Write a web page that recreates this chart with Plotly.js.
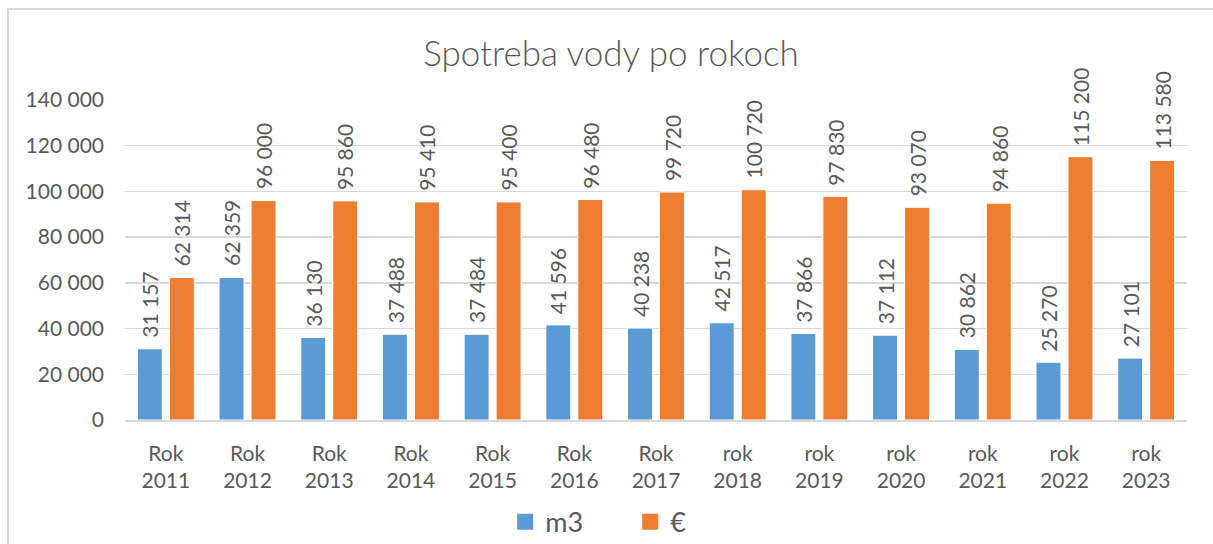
<!DOCTYPE html>
<html>
<head>
<meta charset="utf-8">
<script src="https://cdn.plot.ly/plotly-3.0.1.min.js"></script>
<style>
  html, body { margin: 0; padding: 0; background: #fff; }
  #wrap { position: relative; width: 1213px; height: 544px; overflow: hidden; }
  #chart { width: 1213px; height: 544px; }
  #frame { position: absolute; left: 7px; top: 8px; width: 1230px; height: 560px;
           border-left: 2px solid #D9D9D9; border-top: 2px solid #D9D9D9; pointer-events: none; box-sizing: border-box; }
</style>
</head>
<body>
<div id="wrap">
  <div id="chart"></div>
  <div id="frame"></div>
</div>
<script>
const categories = ['Rok<br>2011','Rok<br>2012','Rok<br>2013','Rok<br>2014','Rok<br>2015','Rok<br>2016','Rok<br>2017',
                    'rok<br>2018','rok<br>2019','rok<br>2020','rok<br>2021','rok<br>2022','rok<br>2023'];
const m3Values  = [31157, 62359, 36130, 37488, 37484, 41596, 40238, 42517, 37866, 37112, 30862, 25270, 27101];
const eurValues = [62314, 96000, 95860, 95410, 95400, 96480, 99720, 100720, 97830, 93070, 94860, 115200, 113580];
const seriesNames = ['m3', '€'];
const yTicks = [0, 20000, 40000, 60000, 80000, 100000, 120000, 140000];

const BLUE = '#5B9BD5', ORANGE = '#ED7D31', TXT = '#595959', GRID = '#D9D9D9';
const FONT = 'Lato, "Open Sans", sans-serif';

function fmt(v) { return String(v).replace(/\B(?=(\d{3})+(?!\d))/g, '\u00a0'); }

const traces = [
  { type: 'bar', x: categories, y: m3Values, name: seriesNames[0], showlegend: false,
    marker: { color: BLUE, line: { color: '#ffffff', width: 1 } }, hoverinfo: 'y' },
  { type: 'bar', x: categories, y: eurValues, name: seriesNames[1], showlegend: false,
    marker: { color: ORANGE, line: { color: '#ffffff', width: 1 } }, hoverinfo: 'y' },
  { type: 'scatter', mode: 'markers', x: [null], y: [null], name: seriesNames[0],
    marker: { symbol: 'square', size: 18, color: BLUE } },
  { type: 'scatter', mode: 'markers', x: [null], y: [null], name: seriesNames[1],
    marker: { symbol: 'square', size: 18, color: ORANGE } }
];

const annotations = [];
[[m3Values, -16], [eurValues, 16]].forEach(([vals, shift]) => {
  vals.forEach((v, i) => {
    annotations.push({
      x: categories[i], y: v, xref: 'x', yref: 'y',
      text: fmt(v), textangle: -90, showarrow: false,
      xanchor: 'center', yanchor: 'bottom', xshift: shift, yshift: 9,
      font: { family: FONT, size: 21, color: TXT }
    });
  });
});

const layout = {
  width: 1213, height: 544,
  margin: { l: 125, r: 26, t: 100, b: 124, autoexpand: false },
  paper_bgcolor: '#ffffff', plot_bgcolor: '#ffffff',
  separators: ', ',
  barmode: 'group', bargap: 0.217, bargroupgap: 0.22,
  title: { text: 'Spotreba vody po rokoch', x: 611/1213, xref: 'container', xanchor: 'center',
           y: 1 - 54/544, yref: 'container', yanchor: 'middle',
           font: { family: FONT, size: 35, weight: 300, color: TXT } },
  font: { family: FONT, size: 21, color: TXT },
  xaxis: { type: 'category', showgrid: false, zeroline: false, automargin: false,
           showline: true, linecolor: GRID, linewidth: 1.5,
           ticks: '', ticklabelstandoff: 14,
           tickfont: { family: FONT, size: 21, color: TXT }, fixedrange: true },
  yaxis: { range: [0, 140000], tickvals: yTicks, tickformat: ',d', automargin: false,
           showgrid: true, gridcolor: GRID, gridwidth: 1.5, zeroline: false,
           showline: false, ticks: '', ticklabelstandoff: 20,
           tickfont: { family: FONT, size: 21, color: TXT }, fixedrange: true },
  showlegend: true,
  legend: { orientation: 'h', x: 0.358, xanchor: 'left', y: -0.319, yanchor: 'middle',
            entrywidth: 80, entrywidthmode: 'pixels',
            font: { family: FONT, size: 27, color: TXT }, bgcolor: 'rgba(0,0,0,0)' },
  annotations: annotations
};

Plotly.newPlot('chart', traces, layout, { displayModeBar: false, staticPlot: true });
</script>
</body>
</html>
